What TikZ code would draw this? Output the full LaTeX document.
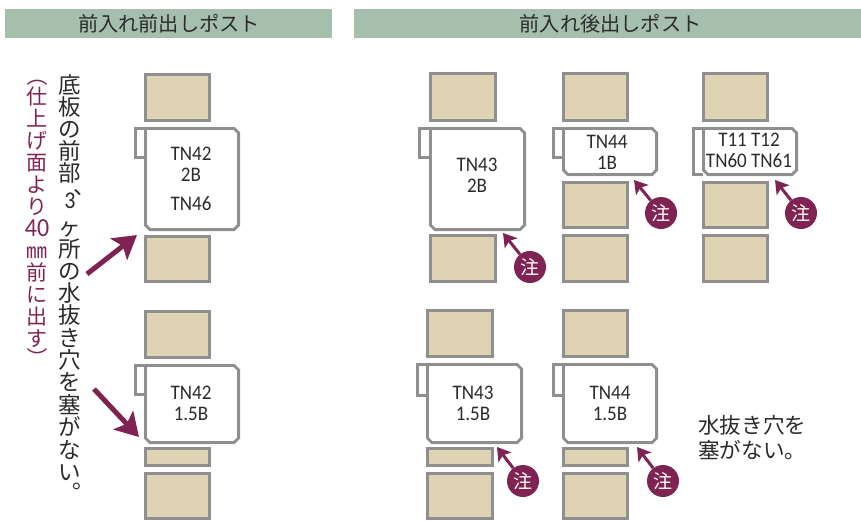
\documentclass[tikz,border=0pt]{standalone}
\usepackage{fontspec}
\usetikzlibrary{arrows.meta}
\setmainfont[FakeStretch=0.92]{Carlito}
\newfontfamily\lat[FakeStretch=0.92]{Carlito}
\newfontfamily\jp{Noto Sans CJK JP}
\definecolor{hdr}{HTML}{A6BFAC}
\definecolor{tan}{HTML}{DED4B4}
\definecolor{edge}{HTML}{8F8F8F}
\definecolor{plum}{HTML}{7F2353}
\definecolor{ink}{HTML}{2B2B2B}
\tikzset{
 hdrbar/.style={fill=hdr,draw=none,inner sep=0pt,minimum height=29pt,text=ink,font=\jp\fontsize{20.2}{21}\selectfont},
 post/.style={draw=edge,fill=tan,line width=2.8pt},
 boxline/.style={draw=edge,fill=white,line width=2.8pt,line join=miter},
 tag/.style={text=ink,align=center,inner sep=0pt,font=\fontsize{20.7}{21}\selectfont},
 bigarrow/.style={draw=plum,line width=5pt,-{Stealth[length=23pt,width=27pt,inset=5pt]}},
 smallarrow/.style={draw=plum,line width=3pt,-{Stealth[length=13pt,width=16pt,inset=3pt]}},
 note/.style={circle,fill=plum,text=white,minimum size=32pt,inner sep=0pt,font=\jp\fontsize{19}{20}\selectfont},
 vtext/.style={align=center,inner sep=0pt,anchor=north},
 punct/.style={inner sep=0pt,anchor=base west}
}
\newcommand\pst[4]{\draw[post] (#1+1.4,#2+1.4) rectangle (#3-1.4,#4-1.4);}
\newcommand\mbx[6]{%
 \draw[boxline] (#1+1.4,#2+1.4) -- (#5+1.4,#2+1.4) -- (#5+1.4,#6-1.4) -- (#1+1.4,#6-1.4);
 \draw[boxline] (#1+1.4,#2+1.4) -- (#3-6,#2+1.4) -- (#3-1.4,#2+6) -- (#3-1.4,#4-6) -- (#3-6,#4-1.4) -- (#1+6,#4-1.4) -- (#1+1.4,#4-6) -- cycle;}
\begin{document}
\begin{tikzpicture}[x=1pt,y=-1pt]
\lineskiplimit=-100pt
\useasboundingbox (0,0) rectangle (861,520);
\node[hdrbar,minimum width=327pt] (h1) at (168.5,23.5) {\hspace{1pt}前入れ前出しポスト};
\node[hdrbar,minimum width=507pt] (h2) at (607.5,23.5) {\hspace{6pt}前入れ後出しポスト};
\pst{144}{73}{211}{122}\mbx{144}{127}{240}{231}{134}{159}\pst{144}{235}{211}{283}
\pst{144}{310}{211}{359}\mbx{144}{364}{240}{444}{134}{396}\pst{144}{447}{211}{467}\pst{144}{472}{211}{520}
\pst{429}{72}{497}{122}\mbx{429}{127}{526}{231}{418}{159}\pst{429}{234}{497}{283}
\pst{562}{72}{629}{122}\mbx{562}{127}{658}{176}{552}{159}\pst{562}{181}{629}{229}\pst{562}{234}{629}{283}
\pst{702}{72}{769}{122}\mbx{702}{127}{798}{176}{692}{176}\pst{702}{181}{769}{229}\pst{702}{234}{769}{283}
\pst{426}{309}{494}{358}\mbx{426}{363}{523}{444}{416}{397}\pst{426}{447}{494}{467}\pst{426}{472}{494}{520}
\pst{562}{309}{629}{358}\mbx{562}{363}{658}{444}{552}{397}\pst{562}{447}{629}{467}\pst{562}{472}{629}{520}
\node[tag] (a1) at (191,179) {TN42\\2B\\[8pt]TN46};
\node[tag] (a2) at (191,403) {TN42\\1.5B};
\node[tag] (b1) at (477,175) {TN43\\2B};
\node[tag] (b2) at (607,152) {TN44\\1B};
\node[tag] (b3) at (749,150) {T11 T12\\TN60 TN61};
\node[tag] (c1) at (473,403) {TN43\\1.5B};
\node[tag] (c2) at (610,403) {TN44\\1.5B};
\node[vtext,text=ink,font=\jp\fontsize{22.5}{22.2}\selectfont] (v1) at (70,74) {底\\板\\の\\前\\部\\[4.8pt]{\lat\fontsize{24}{22.2}\selectfont 3}\\[4pt]ヶ\\所\\の\\水\\抜\\き\\穴\\を\\[1pt]塞\\が\\な\\い};
\node[punct,text=ink,font=\jp\fontsize{22.5}{22.2}\selectfont] (p1) at (73.5,194) {、};
\node[punct,text=ink,font=\jp\fontsize{22.5}{22.2}\selectfont] (p2) at (72.3,488) {。};
\node[vtext,text=plum,font=\jp\fontsize{21}{22}\selectfont] (v2) at (37,87) {仕\\上\\げ\\面\\よ\\り\\{\lat\fontsize{26}{22}\selectfont 40}\\㎜\\前\\に\\出\\す};
\node[rotate=-90,inner sep=0pt,text=plum,font=\jp\fontsize{21}{22}\selectfont] (p3) at (37,76) {（};
\node[rotate=-90,inner sep=0pt,text=plum,font=\jp\fontsize{21}{22}\selectfont] (p4) at (37,358) {）};
\node[anchor=north west,inner sep=0pt,align=left,text=ink,font=\jp\fontsize{21.6}{25}\selectfont] (n) at (698,415) {水抜き穴を\\塞がない。};
\coordinate (t1) at (137,235);\coordinate (s1) at (87,274);
\coordinate (t2) at (139,437);\coordinate (s2) at (94,389);
\draw[bigarrow] (s1) -- (t1);
\draw[bigarrow] (s2) -- (t2);
\node[note] (nb1) at (530,267) {注};\coordinate (tb1) at (503,233);\draw[smallarrow] (nb1) -- (tb1);
\node[note] (nb2) at (661,213) {注};\coordinate (tb2) at (634,180);\draw[smallarrow] (nb2) -- (tb2);
\node[note] (nb3) at (801,213) {注};\coordinate (tb3) at (775,180);\draw[smallarrow] (nb3) -- (tb3);
\node[note] (nc1) at (523,481) {注};\coordinate (tc1) at (497,447);\draw[smallarrow] (nc1) -- (tc1);
\node[note] (nc2) at (663,481) {注};\coordinate (tc2) at (637,447);\draw[smallarrow] (nc2) -- (tc2);
\end{tikzpicture}
\end{document}
